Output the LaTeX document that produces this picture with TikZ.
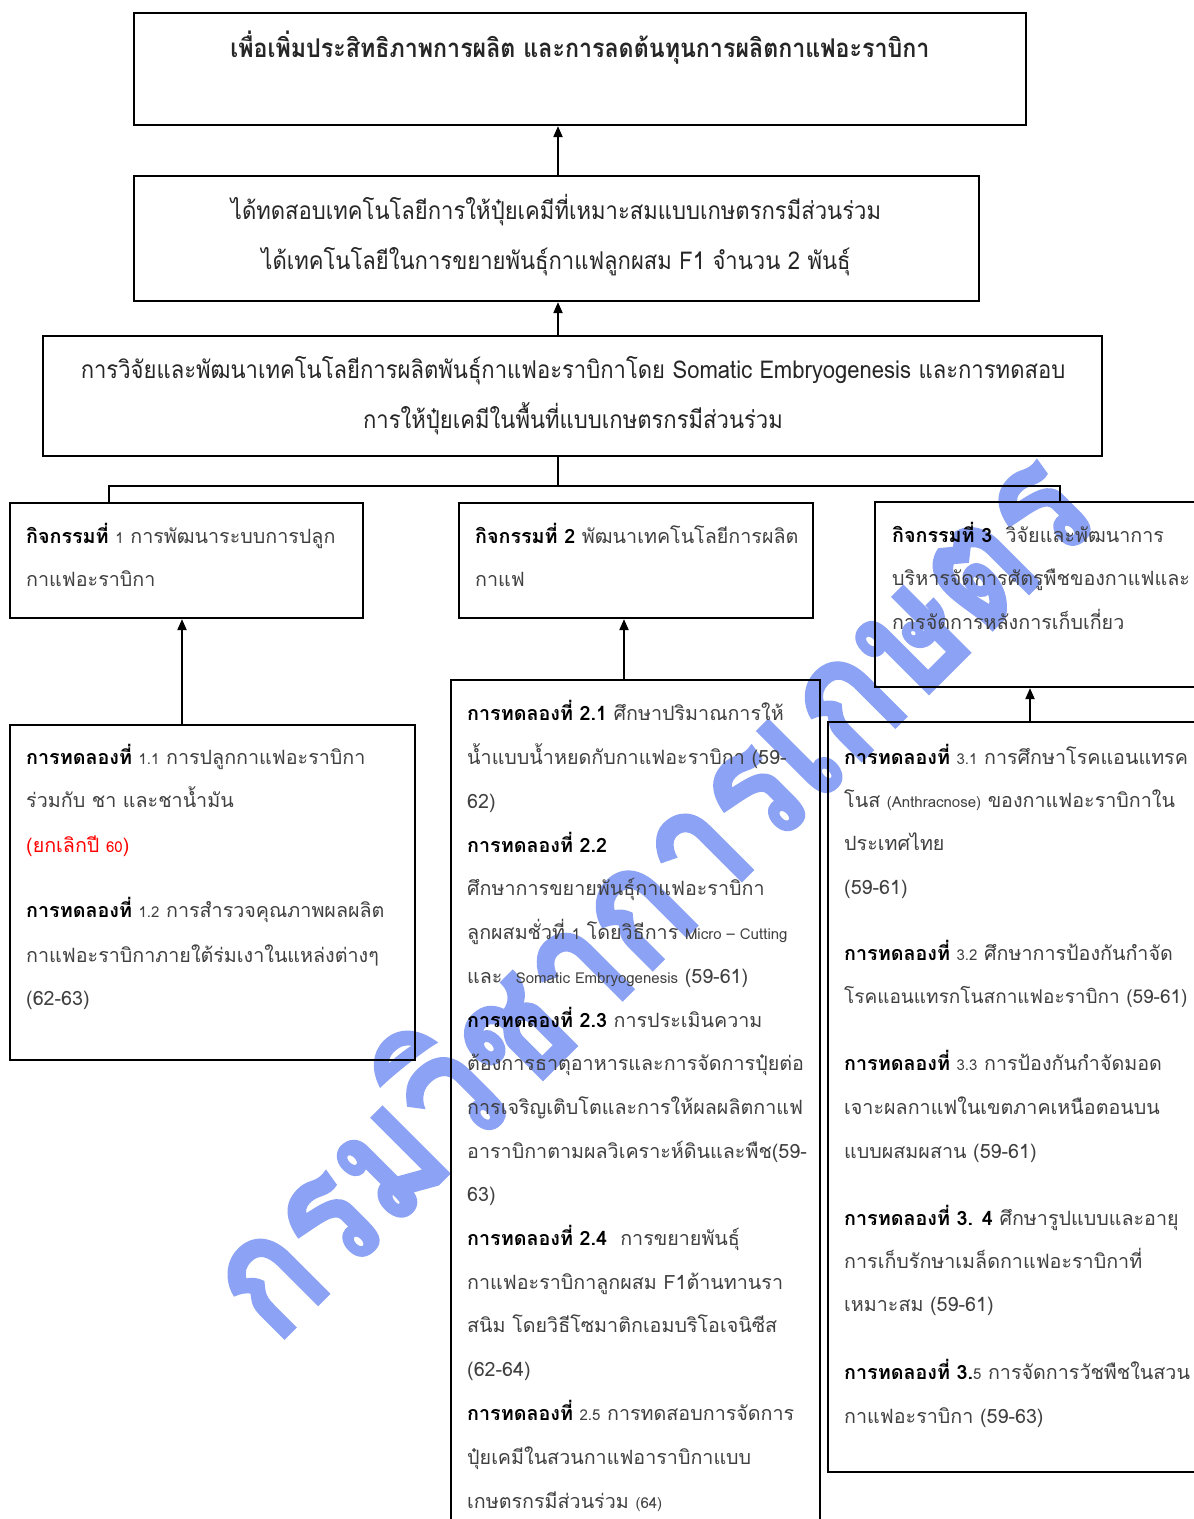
\documentclass[tikz,border=0pt]{standalone}
\usepackage{fontspec}
\usetikzlibrary{arrows.meta,calc}
\setmainfont{Loma}[Script=Thai]
\newfontfamily\thaicond{Loma}[Script=Thai,FakeStretch=0.9]
\newfontfamily\wmfont{Loma Bold}[Script=Thai,FakeStretch=0.85,FakeBold=1.2]
\definecolor{txtg}{gray}{0.25}
\definecolor{wmark}{RGB}{140,162,245}
\newcommand\bk[1]{\textcolor{black}{\bfseries #1}}
\newcommand\sm[1]{{\fontsize{15}{18}\selectfont #1}}
\newcommand\tx[4]{\node[tline] (#1) at (#2,#3) {#4};}
\begin{document}
\begin{tikzpicture}[x=1pt,y=-1pt,
  bigbox/.style={draw,line width=2.2pt,inner sep=0pt},
  smallbox/.style={draw,line width=1.3pt,inner sep=0pt},
  tline/.style={anchor=base west,inner sep=0pt,font=\fontsize{19.7}{22}\selectfont,text=txtg},
  ctext/.style={anchor=base,inner sep=0pt,font=\thaicond\fontsize{24.5}{28}\selectfont,text=black!85},
  arr/.style={line width=2pt,-{Triangle[length=11pt,width=9pt]}},
  tree/.style={line width=1.1pt}]
\clip (0,0) rectangle (1194,1519);
\fill[white] (0,0) rectangle (1194,1519);
% watermark
\node[rotate=45,inner sep=0pt,text=wmark,font=\wmfont\fontsize{170}{170}\selectfont] (wm) at (640,885) {กรมวิชาการเกษตร};
% boxes
\node[bigbox,minimum width=892pt,minimum height=112pt] (goal) at (580,69) {};
\node[bigbox,minimum width=845pt,minimum height=125pt] (out) at (556.5,238.5) {};
\node[bigbox,minimum width=1059pt,minimum height=120pt] (proj) at (572.5,396) {};
\node[bigbox,minimum width=353pt,minimum height=115pt] (a1) at (186.5,560.5) {};
\node[bigbox,minimum width=354pt,minimum height=115pt] (a2) at (636,560.5) {};
\node[bigbox,minimum width=325pt,minimum height=185pt] (a3) at (1037.5,594.5) {};
\node[smallbox,minimum width=405pt,minimum height=335pt] (e1) at (212.5,892.5) {};
\node[smallbox,minimum width=369pt,minimum height=850pt] (e2) at (635.5,1105) {};
\node[smallbox,minimum width=372pt,minimum height=750pt] (e3) at (1014,1097) {};
% connectors
\coordinate (xa) at (558,0);
\coordinate (x1) at (182,0);
\coordinate (x2) at (624,0);
\coordinate (x3) at (1030,0);
\coordinate (tj) at (558,486);
\coordinate (tl) at (109,486);
\coordinate (tr) at (1060,486);
\draw[arr] (out.north -| xa) -- (goal.south -| xa);
\draw[arr] (proj.north -| xa) -- (out.south -| xa);
\draw[tree] (proj.south -| tj) -- (tj);
\draw[tree] (a1.north -| tl) -- (tl) -- (tr) -- (a3.north -| tr);
\draw[arr] (e1.north -| x1) -- (a1.south -| x1);
\draw[arr] (e2.north -| x2) -- (a2.south -| x2);
\draw[arr] (e3.north -| x3) -- (a3.south -| x3);
% top texts
\node[ctext,font=\thaicond\bfseries\fontsize{25.8}{28}\selectfont] (g1) at (580,57) {เพื่อเพิ่มประสิทธิภาพการผลิต และการลดต้นทุนการผลิตกาแฟอะราบิกา};
\node[ctext] (o1) at (556,219) {ได้ทดสอบเทคโนโลยีการให้ปุ๋ยเคมีที่เหมาะสมแบบเกษตรกรมีส่วนร่วม};
\node[ctext] (o2) at (556,269) {ได้เทคโนโลยีในการขยายพันธุ์กาแฟลูกผสม F1 จำนวน 2 พันธุ์};
\node[ctext] (p1) at (573,378) {การวิจัยและพัฒนาเทคโนโลยีการผลิตพันธุ์กาแฟอะราบิกาโดย Somatic Embryogenesis และการทดสอบ};
\node[ctext] (p2) at (573,428) {การให้ปุ๋ยเคมีในพื้นที่แบบเกษตรกรมีส่วนร่วม};
% activities
\tx{a1l1}{26}{543}{\bk{กิจกรรมที่} \sm{1} การพัฒนาระบบการปลูก}
\tx{a1l2}{26}{586}{กาแฟอะราบิกา}
\tx{a2l1}{475}{543}{\bk{กิจกรรมที่ 2} พัฒนาเทคโนโลยีการผลิต}
\tx{a2l2}{475}{586}{กาแฟ}
\tx{a3l1}{892}{542}{\bk{กิจกรรมที่ 3}\ \ วิจัยและพัฒนาการ}
\tx{a3l2}{892}{585}{บริหารจัดการศัตรูพืชของกาแฟและ}
\tx{a3l3}{892}{629}{การจัดการหลังการเก็บเกี่ยว}
% experiments 1
\tx{e1l1}{26}{764}{\bk{การทดลองที่} \sm{1.1} การปลูกกาแฟอะราบิกา}
\tx{e1l2}{26}{807}{ร่วมกับ ชา และชาน้ำมัน}
\tx{e1l3}{26}{852}{\textcolor{red}{(ยกเลิกปี \sm{60})}}
\tx{e1l4}{26}{917}{\bk{การทดลองที่} \sm{1.2} การสำรวจคุณภาพผลผลิต}
\tx{e1l5}{26}{962}{กาแฟอะราบิกาภายใต้ร่มเงาในแหล่งต่างๆ}
\tx{e1l6}{26}{1005}{(62-63)}
% experiments 2
\tx{e2l1}{467}{720}{\bk{การทดลองที่ 2.1} ศึกษาปริมาณการให้}
\tx{e2l2}{467}{764}{น้ำแบบน้ำหยดกับกาแฟอะราบิกา (59-}
\tx{e2l3}{467}{808}{62)}
\tx{e2l4}{467}{852}{\bk{การทดลองที่ 2.2}}
\tx{e2l5}{467}{895}{ศึกษาการขยายพันธุ์กาแฟอะราบิกา}
\tx{e2l6}{467}{939}{ลูกผสมชั่วที่ \sm{1} โดยวิธีการ \sm{Micro – Cutting}}
\tx{e2l7}{467}{983}{และ\ \ \sm{Somatic Embryogenesis} (59-61)}
\tx{e2l8}{467}{1027}{\bk{การทดลองที่ 2.3} การประเมินความ}
\tx{e2l9}{467}{1070}{ต้องการธาตุอาหารและการจัดการปุ๋ยต่อ}
\tx{e2l10}{467}{1114}{การเจริญเติบโตและการให้ผลผลิตกาแฟ}
\tx{e2l11}{467}{1158}{อาราบิกาตามผลวิเคราะห์ดินและพืช(59-}
\tx{e2l12}{467}{1201}{63)}
\tx{e2l13}{467}{1245}{\bk{การทดลองที่ 2.4}\ \ การขยายพันธุ์}
\tx{e2l14}{467}{1289}{กาแฟอะราบิกาลูกผสม F1ต้านทานรา}
\tx{e2l15}{467}{1332}{สนิม โดยวิธีโซมาติกเอมบริโอเจนิซีส}
\tx{e2l16}{467}{1376}{(62-64)}
\tx{e2l17}{467}{1420}{\bk{การทดลองที่} \sm{2.5} การทดสอบการจัดการ}
\tx{e2l18}{467}{1464}{ปุ๋ยเคมีในสวนกาแฟอาราบิกาแบบ}
\tx{e2l19}{467}{1508}{เกษตรกรมีส่วนร่วม \sm{(64)}}
% experiments 3
\tx{e3l1}{844}{764}{\bk{การทดลองที่} \sm{3.1} การศึกษาโรคแอนแทรค}
\tx{e3l2}{844}{807}{โนส \sm{(Anthracnose)} ของกาแฟอะราบิกาใน}
\tx{e3l3}{844}{850}{ประเทศไทย}
\tx{e3l4}{844}{894}{(59-61)}
\tx{e3l5}{844}{960}{\bk{การทดลองที่} \sm{3.2} ศึกษาการป้องกันกำจัด}
\node[tline,font=\fontsize{19}{22}\selectfont] (e3l6) at (844,1003) {โรคแอนแทรกโนสกาแฟอะราบิกา (59-61)};
\tx{e3l7}{844}{1070}{\bk{การทดลองที่} \sm{3.3} การป้องกันกำจัดมอด}
\tx{e3l8}{844}{1114}{เจาะผลกาแฟในเขตภาคเหนือตอนบน}
\tx{e3l9}{844}{1158}{แบบผสมผสาน (59-61)}
\tx{e3l10}{844}{1225}{\bk{การทดลองที่ 3. 4} ศึกษารูปแบบและอายุ}
\tx{e3l11}{844}{1268}{การเก็บรักษาเมล็ดกาแฟอะราบิกาที่}
\tx{e3l12}{844}{1311}{เหมาะสม (59-61)}
\tx{e3l13}{844}{1379}{\bk{การทดลองที่ 3.}\sm{5} การจัดการวัชพืชในสวน}
\tx{e3l14}{844}{1423}{กาแฟอะราบิกา (59-63)}
\end{tikzpicture}
\end{document}
